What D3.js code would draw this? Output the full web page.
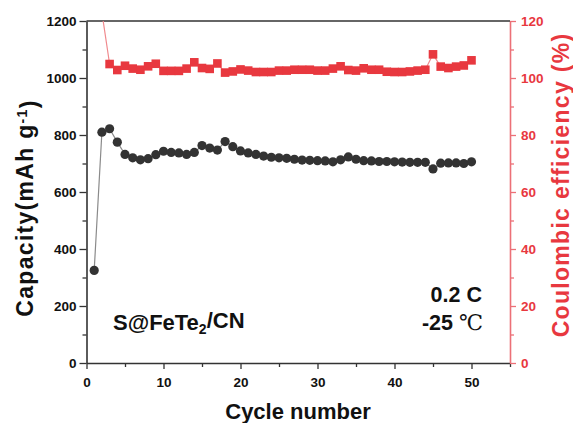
<!DOCTYPE html>
<html>
<head>
<meta charset="utf-8">
<script src="https://cdn.jsdelivr.net/npm/d3@7"></script>
<style>
body { margin: 0; background: #fff; }
text { font-family: "Liberation Sans", Arial, sans-serif; }
</style>
</head>
<body>
<svg width="573" height="423"></svg>
<script>
// data
var cycles = d3.range(1, 51);
var capacity = [325, 810, 822, 775, 732, 720, 713, 717, 731, 743,
	739, 737, 732, 739, 763, 754, 747, 777, 759, 744,
	737, 732, 726, 722, 720, 718, 715, 712, 711, 710,
	709, 706, 713, 723, 715, 710, 709, 707, 707, 706,
	705, 704, 704, 704, 681, 701, 702, 702, 700, 706];
var efficiency = [null, 123, 104.9, 102.8, 104.3, 103.3, 102.9, 104.1, 105.0, 102.5,
	102.5, 102.5, 103.3, 105.5, 103.5, 103.2, 105.1, 101.9, 102.3, 103.0,
	102.6, 102.1, 102.1, 102.1, 102.6, 102.6, 102.9, 102.9, 102.9, 102.6,
	102.6, 103.3, 104.1, 102.8, 102.6, 103.4, 102.9, 102.9, 102.2, 102.1,
	102.1, 102.3, 102.6, 102.9, 108.3, 104.0, 103.5, 104.0, 104.4, 106.2];
var xTicks = [0, 10, 20, 30, 40, 50];
var capTicks = [0, 200, 400, 600, 800, 1000, 1200];
var ceTicks = [0, 20, 40, 60, 80, 100, 120];

// plot box (window.top is reserved, so prefixed names)
var pLeft = 86.5, pRight = 510, pTop = 21, pBottom = 363;
var dark = "#333";
var red = "#e8383f";
var pink = "#ec7077";

var svg = d3.select("svg");

var x = d3.scaleLinear().domain([0, 55]).range([pLeft, pRight]);
var yCap = d3.scaleLinear().domain([0, 1200]).range([pBottom, pTop]);
var yCe = d3.scaleLinear().domain([0, 120]).range([pBottom, pTop]);

svg.append("clipPath").attr("id", "plot")
	.append("rect")
	.attr("x", pLeft).attr("y", pTop)
	.attr("width", pRight - pLeft).attr("height", pBottom - pTop);

// minor ticks first
svg.append("g")
	.attr("transform", `translate(${pLeft},0)`)
	.call(d3.axisLeft(yCap).tickValues(d3.range(100, 1200, 200)).tickSize(4).tickFormat(""))
	.call(g => g.select(".domain").remove())
	.selectAll("line").attr("stroke", dark).attr("stroke-width", 1.3);

svg.append("g")
	.attr("transform", `translate(0,${pBottom})`)
	.call(d3.axisBottom(x).tickValues([5, 15, 25, 35, 45, 55]).tickSize(4).tickFormat(""))
	.call(g => g.select(".domain").remove())
	.selectAll("line").attr("stroke", dark).attr("stroke-width", 1.3);

svg.append("g")
	.attr("transform", `translate(${pRight},0)`)
	.call(d3.axisRight(yCe).tickValues(d3.range(10, 120, 20)).tickSize(4).tickFormat(""))
	.call(g => g.select(".domain").remove())
	.selectAll("line").attr("stroke", pink).attr("stroke-width", 1.3);

// main axes
var yAxisL = svg.append("g")
	.attr("transform", `translate(${pLeft},0)`)
	.call(d3.axisLeft(yCap).tickValues(capTicks).tickFormat(d3.format("d"))
		.tickSize(7).tickSizeOuter(0).tickPadding(3));

var xAxis = svg.append("g")
	.attr("transform", `translate(0,${pBottom})`)
	.call(d3.axisBottom(x).tickValues(xTicks).tickFormat(d3.format("d"))
		.tickSize(6).tickSizeOuter(0).tickPadding(8));

[yAxisL, xAxis].forEach(g => {
	g.select(".domain").attr("stroke", dark).attr("stroke-width", 1.6);
	g.selectAll(".tick line").attr("stroke", dark).attr("stroke-width", 1.3);
	g.selectAll("text").attr("fill", "#111").style("font-size", "13.5px").style("font-weight", "bold");
});

var yAxisR = svg.append("g")
	.attr("transform", `translate(${pRight},0)`)
	.call(d3.axisRight(yCe).tickValues(ceTicks).tickFormat(d3.format("d"))
		.tickSize(6).tickSizeOuter(0).tickPadding(5));
yAxisR.select(".domain").attr("stroke", pink).attr("stroke-width", 1.6);
yAxisR.selectAll(".tick line").attr("stroke", pink).attr("stroke-width", 1.3);
yAxisR.selectAll("text").attr("fill", red).style("font-size", "13.5px").style("font-weight", "bold");

// top border
svg.append("line")
	.attr("x1", pLeft).attr("x2", pRight)
	.attr("y1", pTop).attr("y2", pTop)
	.attr("stroke", dark).attr("stroke-width", 1.6);

// capacity series
var capData = cycles.map((c, i) => ({c: c, v: capacity[i]}));
svg.append("path")
	.datum(capData)
	.attr("fill", "none")
	.attr("stroke", "#8a8a8a")
	.attr("stroke-width", 1.2)
	.attr("d", d3.line().x(d => x(d.c)).y(d => yCap(d.v)));

svg.selectAll(".cap")
	.data(capData)
	.enter()
	.append("circle")
	.attr("cx", d => x(d.c))
	.attr("cy", d => yCap(d.v))
	.attr("r", 4.6)
	.attr("fill", dark);

// efficiency series
var ceData = cycles.map((c, i) => ({c: c, v: efficiency[i]})).filter(d => d.v !== null);
var ceGroup = svg.append("g").attr("clip-path", "url(#plot)");
ceGroup.append("path")
	.datum(ceData)
	.attr("fill", "none")
	.attr("stroke", "#f08a8e")
	.attr("stroke-width", 1.2)
	.attr("d", d3.line().x(d => x(d.c)).y(d => yCe(d.v)));

ceGroup.selectAll(".ce")
	.data(ceData.filter(d => d.v <= 120))
	.enter()
	.append("rect")
	.attr("x", d => x(d.c) - 4.3)
	.attr("y", d => yCe(d.v) - 4.3)
	.attr("width", 8.6)
	.attr("height", 8.6)
	.attr("fill", red);

// titles
svg.append("text")
	.attr("x", 298)
	.attr("y", 419)
	.style("text-anchor", "middle")
	.style("font-size", "22px")
	.style("font-weight", "bold")
	.attr("fill", "#111")
	.text("Cycle number");

var capTitle = svg.append("text")
	.attr("transform", "translate(33,208) rotate(-90)")
	.style("text-anchor", "middle")
	.style("font-size", "23px")
	.style("font-weight", "bold")
	.style("letter-spacing", "1.3px")
	.attr("fill", "#111");
capTitle.append("tspan").text("Capacity(mAh g");
capTitle.append("tspan").attr("dy", "-0.45em").style("font-size", "14px").text("-1");
capTitle.append("tspan").attr("dy", "0.45em").text(")");

svg.append("text")
	.attr("transform", "translate(569,185) rotate(-90)")
	.style("text-anchor", "middle")
	.style("font-size", "23px")
	.style("font-weight", "bold")
	.style("letter-spacing", "1.3px")
	.attr("fill", red)
	.text("Coulombic efficiency (%)");

// annotations
var label = svg.append("text")
	.attr("x", 113)
	.attr("y", 330)
	.style("font-size", "22px")
	.style("font-weight", "bold")
	.attr("fill", "#111");
label.append("tspan").text("S@FeTe");
label.append("tspan").attr("dy", "0.3em").style("font-size", "14px").text("2");
label.append("tspan").attr("dy", "-0.3em").text("/CN");

svg.append("text")
	.attr("x", 482)
	.attr("y", 302)
	.style("text-anchor", "end")
	.style("font-size", "21.5px")
	.style("font-weight", "bold")
	.attr("fill", "#111")
	.text("0.2 C");

var temp = svg.append("text")
	.attr("x", 483)
	.attr("y", 330)
	.style("text-anchor", "end")
	.style("font-size", "21.5px")
	.attr("fill", "#111");
temp.append("tspan").style("font-weight", "bold").text("-25 ");
temp.append("tspan").style("font-family", "'DejaVu Serif', 'Noto Sans CJK SC', serif").text("℃");
</script>
</body>
</html>
